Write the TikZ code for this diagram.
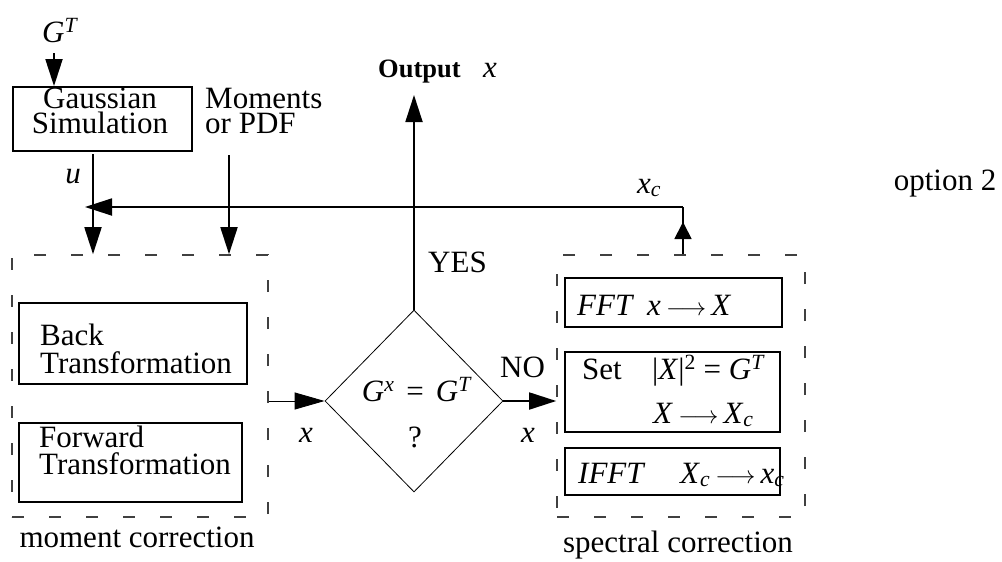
\documentclass[tikz,border=0pt]{standalone}
\usepackage{fontspec}
\setmainfont{Liberation Serif}
\usetikzlibrary{arrows.meta,shapes.geometric}
\newcommand{\ix}[1]{\textit{#1}}
\newcommand{\ar}{$\longrightarrow$}
\begin{document}
\begin{tikzpicture}[x=1pt,y=-1pt,
  font=\fontsize{31}{27}\selectfont,
  box/.style={draw,line width=1.8pt,inner sep=0pt},
  dbox/.style={draw=black!75,line width=1.6pt,dash pattern=on 12pt off 25pt,inner sep=0pt},
  txt/.style={inner sep=0pt,anchor=base west},
  ctxt/.style={inner sep=0pt,anchor=base},
  conn/.style={line width=1.8pt},
  arr/.style={line width=1.8pt,-{Triangle[length=27pt,width=17pt]}},
  smallarr/.style={line width=1.8pt,-{Triangle[length=17pt,width=17pt]}},
  thinarr/.style={line width=0.9pt,-{Triangle[length=30pt,width=17pt]}},
]
\useasboundingbox (0,0) rectangle (1002,562);

% ---- boxes
\node[box,minimum width=179pt,minimum height=64pt] (gauss) at (102.5,119) {};
\node[dbox,minimum width=256pt,minimum height=262pt] (mc) at (140,386) {};
\node[box,minimum width=228pt,minimum height=81pt] (back) at (133,343.5) {};
\node[box,minimum width=223pt,minimum height=79pt] (fwd) at (130.5,462.5) {};
\node[draw,diamond,line width=0.8pt,minimum width=178pt,minimum height=182pt,inner sep=0pt] (dia) at (414,401) {};
\node[dbox,minimum width=248pt,minimum height=262pt] (sc) at (681,386) {};
\node[box,minimum width=217pt,minimum height=49pt] (fft) at (673.5,302.5) {};
\node[box,minimum width=215pt,minimum height=80pt] (set) at (672.5,392) {};
\node[box,minimum width=215pt,minimum height=47pt] (ifft) at (672.5,471.5) {};

% ---- texts
\node[txt] (gt) at (42,42) {\ix{G}\textsuperscript{\ix{T}}};
\node[ctxt] (gauss1) at (100,108) {Gaussian};
\node[ctxt] (gauss2) at (100,133) {Simulation};
\node[txt] (mom1) at (205,108) {Moments};
\node[txt] (mom2) at (205,133) {or PDF};
\node[ctxt] (ulab) at (73,183) {\ix{u}};
\node[txt,font=\fontsize{26.5}{27}\selectfont\bfseries] (out) at (378,77) {Output};
\node[txt] (outx) at (483,77) {\ix{x}};
\node[txt] (xc) at (637,193) {\ix{x}\textsubscript{\ix{c}}};
\node[ctxt] (opt) at (945,190) {option 2};
\node[txt] (yes) at (428,272) {YES};
\node[txt] (no) at (500,377) {NO};
\node[ctxt] (xl) at (306,442) {\ix{x}};
\node[ctxt] (xr) at (528,442) {\ix{x}};
\node[ctxt] (cond) at (417,401) {\ix{G}\textsuperscript{\ix{x}}\hspace{12pt}=\hspace{12pt}\ix{G}\textsuperscript{\ix{T}}};
\node[ctxt] (q) at (415,447) {?};
\node[txt] (back1) at (40,345) {Back};
\node[txt] (back2) at (40,373) {Transformation};
\node[txt] (fwd1) at (39,447) {Forward};
\node[txt] (fwd2) at (39,474) {Transformation};
\node[ctxt] (mclab) at (137,547) {moment correction};
\node[txt] (fft1) at (577,315) {\ix{FFT}};
\node[txt] (fft2) at (647,315) {\ix{x}\,\ar\,\ix{X}};
\node[txt] (set1) at (582,379) {Set};
\node[txt] (set2) at (652,379) {\textbar\ix{X}\textbar\textsuperscript{2} = \ix{G}\textsuperscript{\ix{T}}};
\node[txt] (set3) at (653,423) {\ix{X}\,\ar\,\ix{X}\textsubscript{\ix{c}}};
\node[txt] (ifft1) at (578,483) {\ix{IFFT}};
\node[txt] (ifft2) at (680,483) {\ix{X}\textsubscript{\ix{c}}\,\ar\,\ix{x}\textsubscript{\ix{c}}};
\node[ctxt] (sclab) at (678,552) {spectral correction};

% ---- connector coordinates
\coordinate (gtarr) at (54,53);
\coordinate (uline) at (93,154);
\coordinate (marr) at (229,155);
\coordinate (fbtop) at (683,207);
\coordinate (fbend) at (85,207);
\coordinate (outarr) at (414,95);

% ---- connectors
\draw[arr] (gtarr) -- (gtarr |- gauss.north);
\draw[arr] (uline) -- (uline |- mc.north);
\draw[arr] (marr) -- (marr |- mc.north);
\draw[conn] (sc.north -| fbtop) -- (fbtop);
\draw[smallarr] (sc.north -| fbtop) -- ([yshift=-15pt]fbtop);
\draw[arr] (fbtop) -- (fbend);
\draw[thinarr] (mc.east |- dia.west) -- (dia.west);
\draw[arr] (dia.north) -- (outarr);
\draw[arr] (dia.east) -- (dia.east -| sc.west);
\end{tikzpicture}
\end{document}
